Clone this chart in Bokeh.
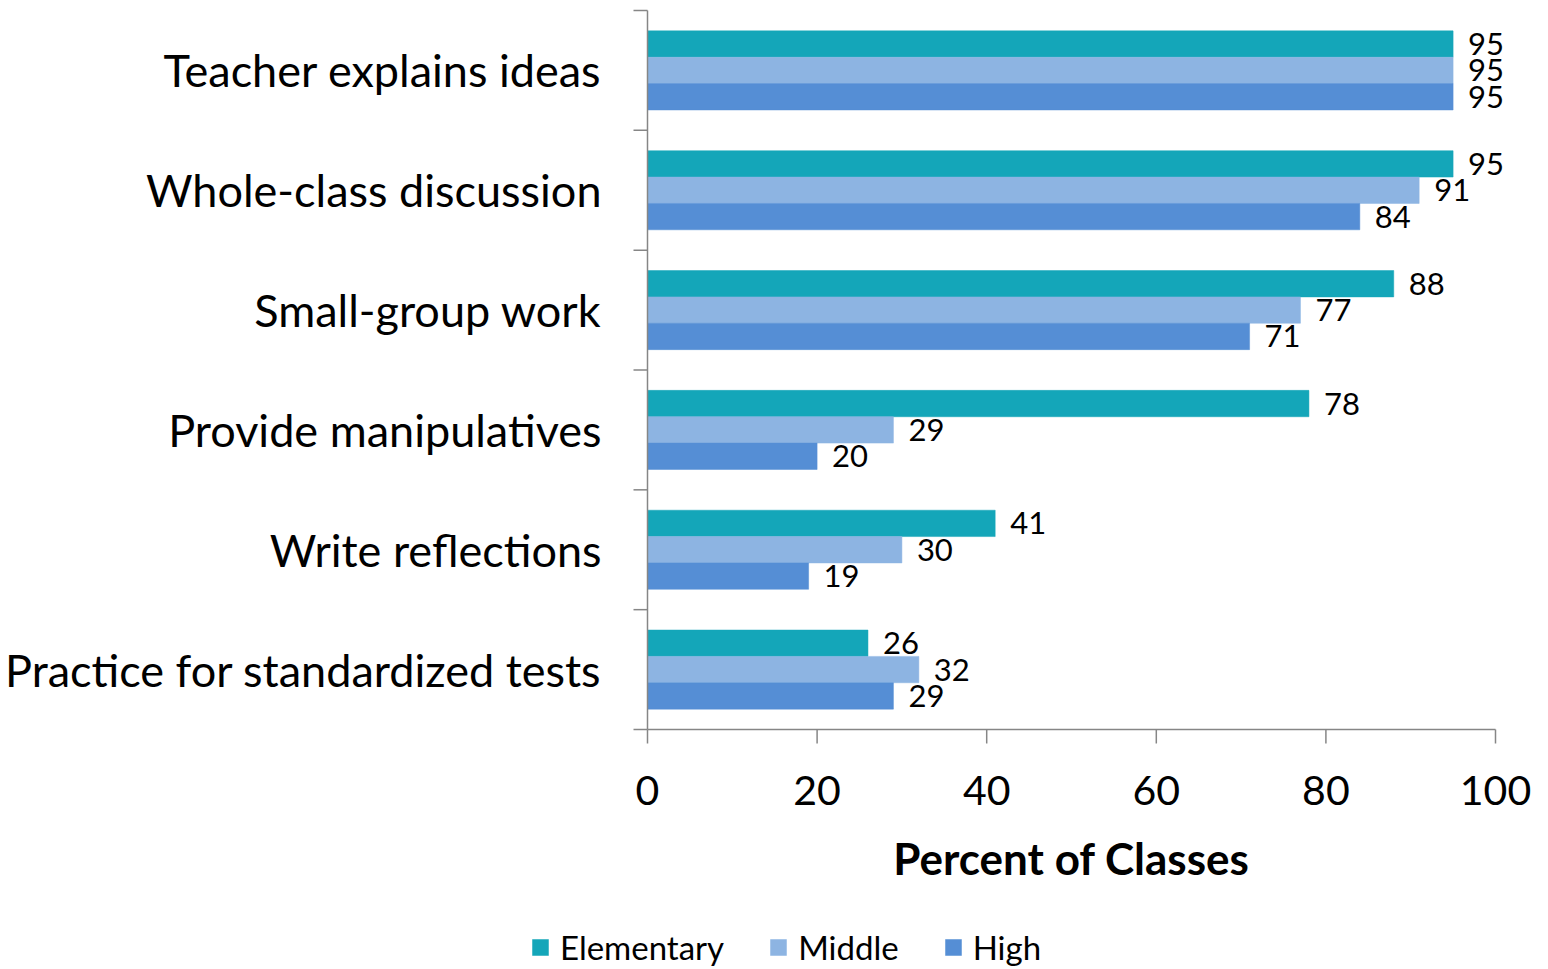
from bokeh.plotting import figure
from bokeh.models import ColumnDataSource, Range1d, LabelSet, Legend, LegendItem
from bokeh.core.properties import value
from bokeh.embed import file_html
from bokeh.resources import INLINE

categories = ["Teacher explains ideas", "Whole-class discussion", "Small-group work",
              "Provide manipulatives", "Write reflections", "Practice for standardized tests"]
series = ["Elementary", "Middle", "High"]
elementary = [95, 95, 88, 78, 41, 26]
middle = [95, 91, 77, 29, 30, 32]
high = [95, 84, 71, 20, 19, 29]
x_ticks = [0, 20, 40, 60, 80, 100]
x_title = "Percent of Classes"
colors = ["#14A6B9", "#8DB4E2", "#558ED5"]

FONT = "Lato"
AXIS_COLOR = "#868686"

# ---- layout constants (pixels) ----
W, H = 1548, 969
X0_PX = 647            # pixel of value 0
PPU = 848 / 100        # pixels per percent
Y0_PX = 729            # pixel of the bottom of the category band
n = len(categories)
PPC = 719 / n          # pixels per category
TICK = 14              # tick length in pixels

px_x = lambda px: (px - X0_PX) / PPU     # pixel -> data (x)
px_y = lambda py: (Y0_PX - py) / PPC     # pixel -> data (y)

centers = [n - i - 0.5 for i in range(n)]  # first category on top

p = figure(width=W, height=H,
           x_range=Range1d(px_x(0), px_x(W)), y_range=Range1d(px_y(H), px_y(0)),
           output_backend="svg", toolbar_location=None, tools="",
           x_axis_location=None, y_axis_location=None,
           min_border_left=0, min_border_right=0, min_border_top=0, min_border_bottom=0)
p.outline_line_color = None
p.xgrid.visible = False
p.ygrid.visible = False
p.background_fill_color = "white"
p.border_fill_color = "white"

# ---- bars and value labels ----
offsets = [0.22, 0.0, -0.22]
values = [elementary, middle, high]
renderers = []
for s, c, off, vals in zip(series, colors, offsets, values):
    src = ColumnDataSource(dict(y=[ctr + off for ctr in centers], v=vals,
                                t=[str(v) for v in vals]))
    r = p.hbar(y="y", right="v", left=0, height=0.22, source=src,
               fill_color=c, line_color=c, line_width=0.5)
    renderers.append(r)
    p.add_layout(LabelSet(x="v", y="y", text="t", source=src,
                          x_offset=15, text_baseline="middle", text_align="left",
                          text_font=value(FONT), text_font_size=value("31px"),
                          text_color="black"))

# ---- vertical (category) axis: line, separator ticks, labels ----
bounds = list(range(n + 1))
p.segment(x0=[0], y0=[0], x1=[0], y1=[n], line_color=AXIS_COLOR, line_width=1.5)
p.segment(x0=[px_x(X0_PX - TICK)] * len(bounds), y0=bounds,
          x1=[0] * len(bounds), y1=bounds, line_color=AXIS_COLOR, line_width=1.5)
p.text(x=[px_x(601)] * n, y=centers, text=categories,
       text_align="right", text_baseline="middle",
       text_font=value(FONT), text_font_size=value("45px"), text_color="black")

# ---- horizontal (value) axis: line, ticks, labels, title ----
p.segment(x0=[0], y0=[0], x1=[100], y1=[0], line_color=AXIS_COLOR, line_width=1.5)
p.segment(x0=x_ticks, y0=[0] * len(x_ticks), x1=x_ticks,
          y1=[px_y(Y0_PX + TICK)] * len(x_ticks), line_color=AXIS_COLOR, line_width=1.5)
p.text(x=x_ticks, y=[px_y(790)] * len(x_ticks), text=[str(t) for t in x_ticks],
       text_align="center", text_baseline="middle",
       text_font=value(FONT), text_font_size=value("41px"), text_color="black")
p.text(x=[50], y=[px_y(857)], text=[x_title],
       text_align="center", text_baseline="middle", text_font_style="bold",
       text_font=value(FONT), text_font_size=value("44px"), text_color="black")

# ---- legend ----
legend = Legend(items=[LegendItem(label=s, renderers=[r]) for s, r in zip(series, renderers)],
                orientation="horizontal", location=(530, 2),
                glyph_width=20, glyph_height=20, label_standoff=10, spacing=44,
                label_text_font=FONT, label_text_font_size="33px", label_text_color="black",
                padding=0, margin=0, border_line_color=None, background_fill_alpha=0)
p.add_layout(legend, "center")

open("out.html", "w").write(file_html(p, INLINE))
